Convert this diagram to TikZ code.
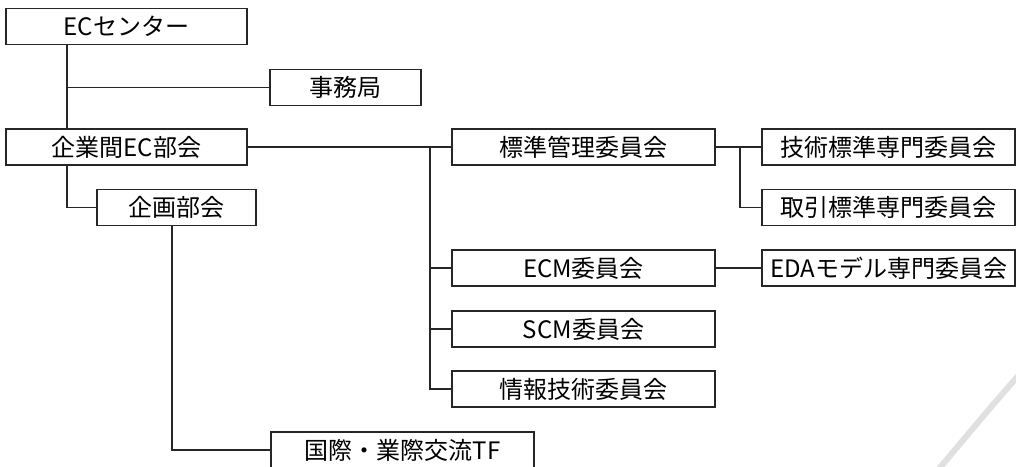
\documentclass[tikz,border=0pt]{standalone}
\usepackage{fontspec}
\setmainfont{Noto Sans CJK JP}
\usetikzlibrary{positioning,calc}
\tikzstyle{every node}=[font=\fontsize{18pt}{20pt}\selectfont, text centered]
\tikzstyle{unit} = [rectangle, draw=black!85, line width=1pt, inner sep=0pt, minimum height=27pt]
\tikzstyle{head} = [unit, minimum width=180.75pt]
\tikzstyle{cmte} = [unit, minimum width=197.25pt]
\tikzstyle{spec} = [unit, minimum width=189.75pt]
\tikzstyle{wire} = [draw=black!85, line width=1pt]

\begin{document}
\begin{tikzpicture}[x=0.75pt,y=-0.75pt]
    \useasboundingbox (0,0) rectangle (1016,467);
    \clip (0,0) rectangle (1016,467);

    % trunk lines
    \coordinate (leftBus) at (67,0);
    \coordinate (planBus) at (172,0);
    \coordinate (cmteBus) at (430,0);
    \coordinate (specBus) at (740,0);

    \node[head] (center) at (126.5,26.5) {ECセンター};
    \node[unit, minimum width=113.25pt] (office) at (345.5,87.5) {事務局};
    \node[head] (b2b) at (126.5,147) {企業間EC部会};
    \node[unit, minimum width=119.25pt] (plan) at (176.5,207.5) {企画部会};

    \node[cmte] (std) at (583.5,147) {標準管理委員会};
    \node[cmte] (ecm) at (583.5,268) {ECM委員会};
    \node[cmte] (scm) at (583.5,329) {SCM委員会};
    \node[cmte] (info) at (583.5,389) {情報技術委員会};
    \node[cmte] (intl) at (402.5,450) {国際・業際交流TF};

    \node[spec] (tech) at (888.5,147) {技術標準専門委員会};
    \node[spec] (trade) at (888.5,207.5) {取引標準専門委員会};
    \node[spec] (eda) at (888.5,268) {EDAモデル専門委員会};

    \draw[wire] (center.south -| leftBus) -- (b2b.north -| leftBus);
    \draw[wire] (leftBus |- office) -- (office.west);
    \draw[wire] (b2b.south -| leftBus) |- (plan.west);
    \draw[wire] (plan.south -| planBus) |- (intl.west);

    \draw[wire] (b2b.east) -- (std.west);
    \draw[wire] (b2b.east -| cmteBus) |- (info.west);
    \draw[wire] (cmteBus |- ecm) -- (ecm.west);
    \draw[wire] (cmteBus |- scm) -- (scm.west);

    \draw[wire] (std.east) -- (tech.west);
    \draw[wire] (std.east -| specBus) |- (trade.west);
    \draw[wire] (ecm.east) -- (eda.west);

    %\draw[black!50] (0,0) rectangle (1016,467);
    \draw[black!12, line width=4.5pt] (1018,376) .. controls (990,408) .. (938,470);
\end{tikzpicture}
\end{document}
